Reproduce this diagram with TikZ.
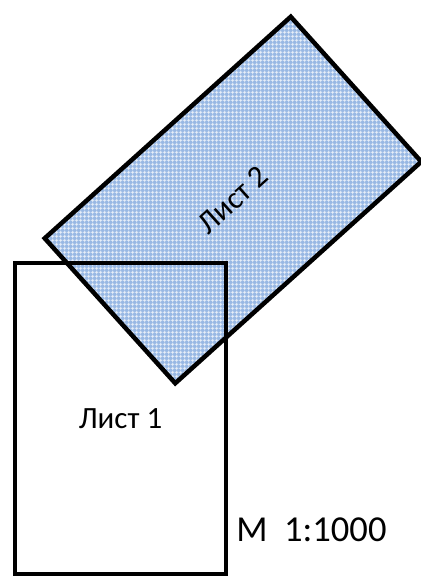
\documentclass[tikz,border=0pt]{standalone}
\usepackage{fontspec}
\setmainfont{Carlito}
\usetikzlibrary{patterns.meta}
\definecolor{sheetblue}{RGB}{152,184,228}
\tikzdeclarepattern{name=sheetgrid,type=uncolored,
	bounding box={(0,0) and (2.6pt,2.6pt)},tile size={(2.6pt,2.6pt)},
	code={\draw[line width=0.55pt] (0,1.3pt) -- (2.6pt,1.3pt) (1.3pt,0) -- (1.3pt,2.6pt);}}

\begin{document}
\begin{tikzpicture}[x=0.025cm,y=-0.025cm]
	\useasboundingbox (0,0) rectangle (420,576);
	\begin{scope}[every node/.style={draw=black,line width=3.2pt,inner sep=0pt}]
		\node [preaction={fill=sheetblue},pattern=sheetgrid,pattern color=white!85!sheetblue,
			rotate=42,minimum width=8.275cm,minimum height=4.875cm,
			font=\fontsize{22}{26}\selectfont] (L2) at (233,200) {Лист 2};
		\node [minimum width=5.275cm,minimum height=7.775cm,
			font=\fontsize{22}{26}\selectfont] (L1) at (120.5,418.5) {Лист 1};
	\end{scope}
	
	\node [anchor=west,inner sep=0pt,font=\fontsize{26}{30}\selectfont] (M) at (236,530) {M\ \ 1:1000};
\end{tikzpicture}
\end{document}
